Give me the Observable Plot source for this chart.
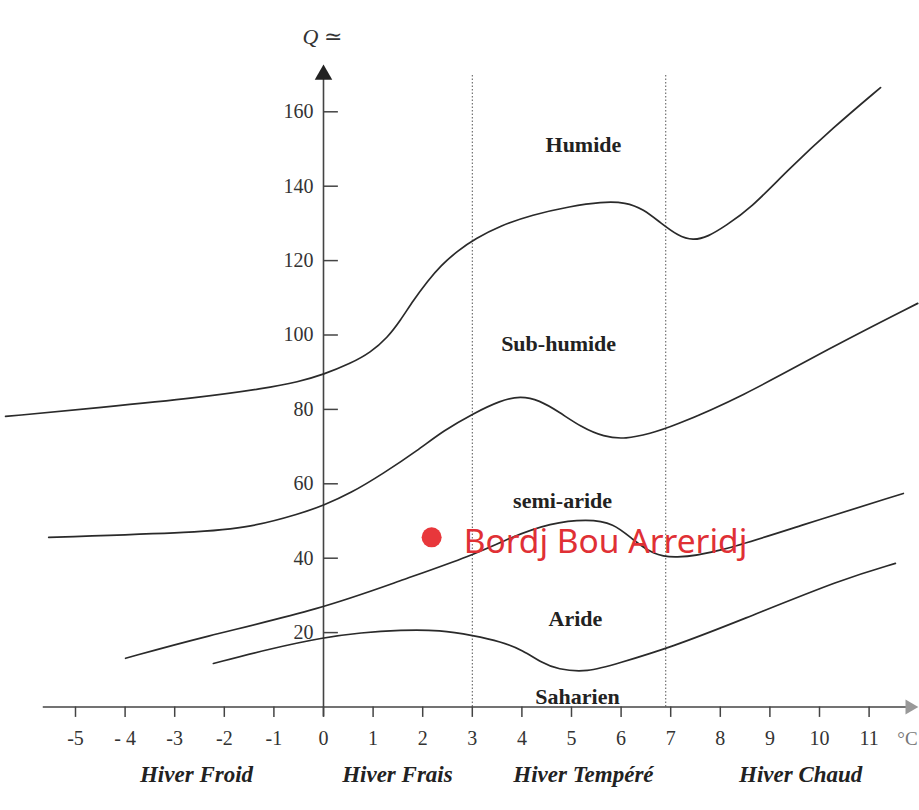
<!DOCTYPE html>
<html>
<head>
<meta charset="utf-8">
<script src="https://cdn.jsdelivr.net/npm/d3@7"></script>
<script src="https://cdn.jsdelivr.net/npm/@observablehq/plot@0.6"></script>
<style>
  html, body { margin: 0; padding: 0; background: #fff; }
  svg { display: block; }
</style>
</head>
<body>
<div id="chart"></div>
<script>
// ---- Data (T = winter minimum °C, Q = Emberger quotient) ----
const tempTicks = [-5, -4, -3, -2, -1, 0, 1, 2, 3, 4, 5, 6, 7, 8, 9, 10, 11];
const tempTickLabels = ["-5", "- 4", "-3", "-2", "-1", "0", "1", "2", "3", "4", "5", "6", "7", "8", "9", "10", "11"];
const qTicks = [20, 40, 60, 80, 100, 120, 140, 160];

// boundary Humide / Sub-humide
const limitHumide = [
  [-6.41, 78.1], [-4.5, 80.5], [-2.48, 83.2], [-1.2, 85.6], [-0.5, 87.4], [0, 89.4],
  [0.54, 92.3], [0.95, 95.3], [1.29, 99.3], [1.55, 103.9], [1.81, 109.3], [2.1, 114.5],
  [2.36, 118.6], [2.7, 122.6], [3.06, 125.9], [3.57, 129.4], [4.2, 132.3], [4.98, 134.6],
  [5.6, 135.8], [6.1, 135.7], [6.45, 133.8], [6.79, 130.2], [7.15, 126.6], [7.45, 125.4],
  [7.75, 126.4], [8.1, 129.3], [8.61, 134.0], [9.35, 144.2], [10.28, 155.8], [11.23, 166.5]
];
// boundary Sub-humide / semi-aride
const limitSubHumide = [
  [-5.54, 45.6], [-2.48, 46.9], [-1.47, 48.3], [-0.46, 52.0], [0, 54.2], [0.54, 57.4],
  [1.21, 62.8], [1.9, 69.0], [2.42, 74.3], [3.02, 78.9], [3.57, 82.4], [3.97, 83.6],
  [4.35, 82.5], [4.75, 79.3], [5.2, 75.2], [5.65, 72.6], [6.09, 72.0], [6.6, 73.6],
  [7.0, 75.2], [8.41, 83.2], [10.22, 96.6], [11.98, 108.5]
];
// boundary semi-aride / Aride
const limitSemiAride = [
  [-3.99, 13.1], [-2.48, 18.7], [0, 26.5], [1.55, 34.0], [3.0, 40.7], [3.77, 45.6],
  [4.58, 49.5], [5.32, 50.5], [5.85, 49.5], [6.25, 44.8], [6.65, 41.0], [7.06, 39.9],
  [7.94, 41.5], [9.62, 48.8], [11.69, 57.4]
];
// boundary Aride / Saharien
const limitAride = [
  [-2.22, 11.7], [-1.07, 15.7], [0, 18.7], [0.75, 20.0], [1.55, 20.7], [2.36, 20.7],
  [3.02, 19.2], [3.57, 17.6], [4.03, 15.2], [4.38, 12.0], [4.72, 10.1], [5.32, 9.3],
  [5.93, 11.7], [7.0, 16.0], [8.41, 23.3], [10.48, 34.5], [11.53, 38.6]
];

const zoneNames = ["Humide", "Sub-humide", "semi-aride", "Aride", "Saharien"];
const zoneT = [5.24, 4.74, 4.82, 5.08, 5.12];
const zoneQ = [151.2, 97.7, 55.5, 23.8, 2.6];

const winterNames = ["Hiver Froid", "Hiver Frais", "Hiver Tempéré", "Hiver Chaud"];
const winterT = [-2.56, 1.49, 5.24, 9.62];

const winterLimits = [3, 6.9];

const stationName = ["Bordj Bou Arreridj"];
const stationT = [2.18];
const stationQ = [45.6];

// ---- Chart ----
const pxPerT = 49.6, pxPerQ = 3.72;
const W = 919, H = 810;
const serif = "'Liberation Serif', 'DejaVu Serif', serif";

const zones = zoneNames.map((n, i) => ({name: n, t: zoneT[i], q: zoneQ[i]}));
const winters = winterNames.map((n, i) => ({name: n, t: winterT[i]}));
const station = stationName.map((n, i) => ({name: n, t: stationT[i], q: stationQ[i]}));
const ticksX = tempTicks.map((t, i) => ({t, label: tempTickLabels[i]}));

const lineOpts = {x: d => d[0], y: d => d[1], curve: "basis", stroke: "#2a2a2a", strokeWidth: 1.7};

const chart = Plot.plot({
  width: W,
  height: H,
  margin: 0,
  style: {background: "#fff", fontFamily: serif},
  x: {domain: [-323 / pxPerT, (W - 323) / pxPerT], axis: null},
  y: {domain: [(706.5 - H) / pxPerQ, 706.5 / pxPerQ], axis: null},
  marks: [
    // winter-type separators
    Plot.ruleX(winterLimits, {x: d => d, y1: 0, y2: 170, stroke: "#555", strokeWidth: 1, strokeDasharray: "1.5,2"}),
    // axes
    Plot.ruleY([0], {x1: -5.65, x2: 11.8, stroke: "#444", strokeWidth: 1.6}),
    Plot.ruleX([0], {y1: -2.6, y2: 169, stroke: "#444", strokeWidth: 1.6}),
    Plot.dot([[0, 170]], {x: d => d[0], y: d => d[1], symbol: "triangle", r: 6.5, fill: "#222", stroke: "none"}),
    Plot.dot([[11.82, 0]], {x: d => d[0], y: d => d[1], symbol: "triangle", r: 5.5, rotate: 90, fill: "#999", stroke: "none"}),
    // ticks
    Plot.ruleX(tempTicks, {x: d => d, y1: 0, y2: -2.8, stroke: "#444", strokeWidth: 1.5}),
    Plot.ruleY(qTicks, {y: d => d, x1: 0, x2: 0.3, stroke: "#444", strokeWidth: 1.5}),
    Plot.text(ticksX, {x: "t", y: 0, dy: 32, text: "label", fontSize: 20, fill: "#333", fontFamily: serif}),
    Plot.text(qTicks, {x: 0, y: d => d, dx: -10, text: d => String(d), textAnchor: "end", fontSize: 20, fill: "#333", fontFamily: serif}),
    Plot.text(["Q ≃"], {x: 0, y: 180, dx: -21, text: d => d, textAnchor: "start", fontSize: 22, fontStyle: "italic", fill: "#333", fontFamily: serif}),
    Plot.text(["°C"], {x: 11.57, y: 0, dy: 32, text: d => d, textAnchor: "start", fontSize: 19, fill: "#777", fontFamily: serif}),
    // bioclimatic limits
    Plot.line(limitHumide, lineOpts),
    Plot.line(limitSubHumide, lineOpts),
    Plot.line(limitSemiAride, lineOpts),
    Plot.line(limitAride, lineOpts),
    // zone labels
    Plot.text(zones, {x: "t", y: "q", text: "name", fontSize: 22, fontWeight: "bold", fill: "#222", fontFamily: serif}),
    Plot.text(winters, {x: "t", y: 0, dy: 68, text: "name", fontSize: 23, fontWeight: "bold", fontStyle: "italic", fill: "#222", fontFamily: serif}),
    // station
    Plot.dot(station, {x: "t", y: "q", r: 10, fill: "#e8373b", stroke: "none"}),
    Plot.text(station, {x: "t", y: "q", text: "name", dx: 32, dy: 5, textAnchor: "start", fontSize: 33.5, fill: "#e03035", fontFamily: "'Noto Sans', sans-serif"})
  ]
});

document.getElementById("chart").appendChild(chart);
</script>
</body>
</html>
